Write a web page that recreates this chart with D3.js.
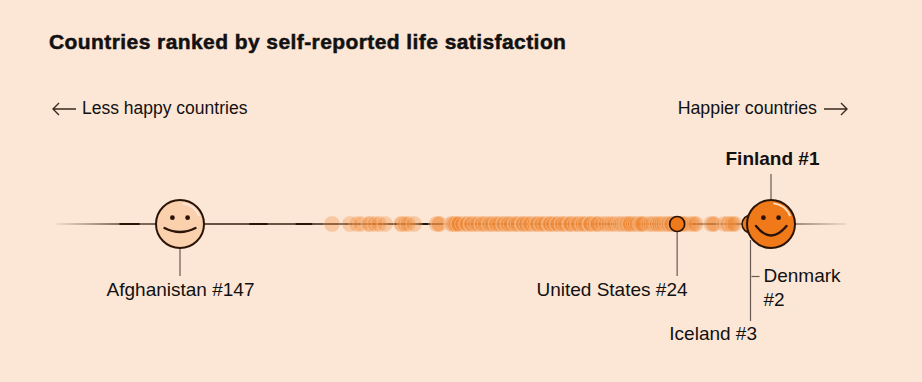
<!DOCTYPE html>
<html lang="en">
<head>
<meta charset="utf-8">
<title>Countries ranked by self-reported life satisfaction</title>
<script src="https://d3js.org/d3.v7.min.js"></script>
<style>
  html, body { margin: 0; padding: 0; background: #fce6d6; }
  svg { display: block; }
  text { font-family: "Liberation Sans", sans-serif; fill: #111; }
</style>
</head>
<body>
<script>
const scores = [
  7.736, 7.521, 7.515, 7.345, 7.322, 7.306, 7.274, 7.262, 7.234, 7.122,
  7.104, 7.091, 6.925, 6.905, 6.882, 6.853, 6.803, 6.792, 6.775, 6.759,
  6.753, 6.740, 6.728, 6.724, 6.711, 6.669, 6.659, 6.640, 6.625, 6.610,
  6.584, 6.560, 6.534, 6.512, 6.494, 6.467, 6.441, 6.418, 6.355, 6.344,
  6.333, 6.322, 6.296, 6.274, 6.251, 6.223, 6.214, 6.204, 6.188, 6.179,
  6.169, 6.152, 6.131, 6.113, 6.094, 6.052, 6.020, 5.990, 5.955, 5.921,
  5.870, 5.862, 5.840, 5.795, 5.788, 5.781, 5.735, 5.712, 5.704, 5.660,
  5.652, 5.625, 5.580, 5.574, 5.566, 5.520, 5.490, 5.483, 5.440, 5.432,
  5.395, 5.360, 5.352, 5.345, 5.300, 5.270, 5.262, 5.220, 5.212, 5.190,
  5.145, 5.138, 5.100, 5.070, 5.062, 5.055, 5.010, 4.985, 4.978, 4.935,
  4.905, 4.898, 4.860, 4.852, 4.810, 4.780, 4.772, 4.730, 4.705, 4.698,
  4.655, 4.625, 4.618, 4.575, 4.550, 4.510, 4.503, 4.460, 4.452, 4.415,
  4.372, 4.365, 4.345, 4.330, 4.322, 4.312, 4.305, 4.298, 4.290, 4.160,
  4.146, 4.130, 3.887, 3.822, 3.790, 3.757, 3.750, 3.574, 3.510, 3.466,
  3.412, 3.400, 3.315, 3.272, 3.197, 3.003, 1.364
];
// where the line starts and stops, on the same scale
const ends = [0.016, 8.545];
// darker, heavier bits of the hand drawn line
const rough = [[0.72, 0.92], [2.12, 2.3], [2.62, 2.78], [3.66, 3.70], [3.96, 4.06]];
const title = "Countries ranked by self-reported life satisfaction";
const leftNote = "Less happy countries";
const rightNote = "Happier countries";
const bg = "#fce6d6", ink = "#2a1408", orange = "#f0791a";

const width = 922, height = 382, midY = 224;

const x = d3.scaleLinear().domain([1.364, 7.736]).range([180, 771]);

const svg = d3.select("body").append("svg")
  .attr("width", width).attr("height", height);

svg.append("rect").attr("width", width).attr("height", height).attr("fill", bg);

// line fades out at both ends
const grad = svg.append("defs").append("linearGradient")
  .attr("id", "fade").attr("gradientUnits", "userSpaceOnUse")
  .attr("x1", x(ends[0])).attr("x2", x(ends[1])).attr("y1", 0).attr("y2", 0);
[[0, 0.05], [0.08, 0.75], [0.2, 0.95], [0.9, 0.85], [1, 0.08]].forEach(s => {
  grad.append("stop").attr("offset", s[0]).attr("stop-color", ink).attr("stop-opacity", s[1]);
});

svg.append("line")
  .attr("x1", x(ends[0])).attr("x2", x(ends[1]))
  .attr("y1", midY).attr("y2", midY)
  .attr("stroke", "url(#fade)").attr("stroke-width", 1.7);

svg.append("g").selectAll("line")
  .data(rough)
  .enter().append("line")
  .attr("x1", d => x(d[0])).attr("x2", d => x(d[1]))
  .attr("y1", midY).attr("y2", midY)
  .attr("stroke", ink).attr("stroke-width", 2.2).attr("stroke-linecap", "round");

// the crowd of countries, Afghanistan and the top three have their own marks
svg.append("g").selectAll("circle")
  .data(scores.slice(3, -1).reverse())
  .enter().append("circle")
  .attr("cx", d => x(d)).attr("cy", midY).attr("r", 8)
  .attr("fill", "#f08a35").attr("fill-opacity", 0.32)
  .attr("stroke", bg).attr("stroke-opacity", 0.4).attr("stroke-width", 0.8);

// leader lines
const leader = (x1, y1, x2, y2) => svg.append("line")
  .attr("x1", x1).attr("y1", y1).attr("x2", x2).attr("y2", y2)
  .attr("stroke", "#6b5a50").attr("stroke-width", 1.2);

leader(x(1.364), 248, x(1.364), 276);
leader(x(6.724), 232, x(6.724), 276);
leader(x(7.736), 174, x(7.736), 199);
leader(x(7.515), 240, x(7.515), 321);
leader(x(7.515) + 1, 276.5, x(7.515) + 9, 276.5);

// Denmark and the US
svg.append("circle").attr("cx", x(7.521)).attr("cy", midY).attr("r", 9)
  .attr("fill", orange).attr("stroke", ink).attr("stroke-width", 1.5);
svg.append("circle").attr("cx", x(6.724)).attr("cy", midY).attr("r", 7.5)
  .attr("fill", orange).attr("stroke", ink).attr("stroke-width", 1.7);

function face(cx, fill, glint) {
  const g = svg.append("g").attr("transform", `translate(${cx},${midY})`);
  g.append("circle").attr("r", 24).attr("fill", fill)
    .attr("stroke", ink).attr("stroke-width", 2);
  g.append("path")
    .attr("d", d3.arc()({ innerRadius: 19.8, outerRadius: 21.6, startAngle: 0.12, endAngle: 1.18, cornerRadius: 1 }))
    .attr("fill", glint);
  return g;
}

function features(g, eyeY, mouth) {
  g.selectAll("circle.eye").data([-7.6, 7.6]).enter().append("circle")
    .attr("class", "eye").attr("cx", d => d).attr("cy", eyeY).attr("r", 2.4).attr("fill", ink);
  g.append("path").attr("d", mouth)
    .attr("fill", "none").attr("stroke", ink).attr("stroke-width", 2.3).attr("stroke-linecap", "round");
}

features(face(x(1.364), "#fad0ad", "#fde9da"), -6.3, "M-15.5,4 Q0,12 15.5,4");
features(face(x(7.736), orange, "#fde0c8"), -6.3, "M-15,2 Q0,21 15.5,2");

// text
svg.append("text").attr("x", 49).attr("y", 49).text(title)
  .attr("font-size", 21).attr("font-weight", 700).attr("letter-spacing", 0.42)
  .attr("stroke", "#111").attr("stroke-width", 0.5);

svg.append("text").attr("x", 82).attr("y", 113.5).text(leftNote).attr("font-size", 17.5);
svg.append("text").attr("x", 817).attr("y", 113.5).attr("text-anchor", "end").text(rightNote).attr("font-size", 17.8);

const arrow = (x1, x2) => {
  const dir = x2 > x1 ? -1 : 1;
  svg.append("path")
    .attr("d", `M${x1},109H${x2}M${x2 + dir * 6},103L${x2},109L${x2 + dir * 6},115`)
    .attr("fill", "none").attr("stroke", "#3a2a20").attr("stroke-width", 1.4);
};
arrow(76, 53);
arrow(824, 847);

const labels = [
  { t: "Afghanistan #147", x: 180.5, y: 296, a: "middle" },
  { t: "United States #24", x: 612, y: 296, a: "middle" },
  { t: "Finland #1", x: 772.5, y: 165, a: "middle", b: true },
  { t: "Denmark", x: 763.5, y: 282, a: "start" },
  { t: "#2", x: 763.5, y: 306, a: "start" },
  { t: "Iceland #3", x: 757, y: 339.5, a: "end" }
];
svg.selectAll("text.label").data(labels).enter().append("text")
  .attr("class", "label")
  .attr("x", d => d.x).attr("y", d => d.y)
  .attr("text-anchor", d => d.a)
  .attr("font-size", 19)
  .attr("font-weight", d => d.b ? 700 : 400)
  .text(d => d.t);
</script>
</body>
</html>
